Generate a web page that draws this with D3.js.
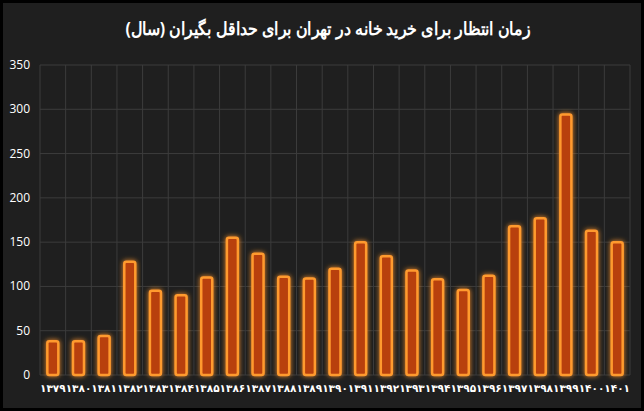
<!DOCTYPE html>
<html><head><meta charset="utf-8">
<script src="https://cdn.jsdelivr.net/npm/d3@7"></script>
<style>body{margin:0;background:#000}</style></head>
<body><svg width="644" height="411"></svg>
<script>
const years = ["۱۳۷۹","۱۳۸۰","۱۳۸۱","۱۳۸۲","۱۳۸۳","۱۳۸۴","۱۳۸۵","۱۳۸۶","۱۳۸۷","۱۳۸۸","۱۳۸۹","۱۳۹۰","۱۳۹۱","۱۳۹۲","۱۳۹۳","۱۳۹۴","۱۳۹۵","۱۳۹۶","۱۳۹۷","۱۳۹۸","۱۳۹۹","۱۴۰۰","۱۴۰۱"];
const values = [38,38,44,128,95,90,110,155,137,111,109,120,150,134,118,108,96,112,168,177,294,163,150];
const yTicks = [0,50,100,150,200,250,300,350];
const title = "زمان انتظار برای خرید خانه در تهران برای حداقل بگیران (سال)";

const svg = d3.select("svg");
const defs = svg.append("defs");
const f = defs.append("filter").attr("id","glow").attr("x","-50%").attr("y","-20%").attr("width","200%").attr("height","140%");
f.append("feGaussianBlur").attr("stdDeviation",2.5).attr("result","b");
const m = f.append("feMerge");
m.append("feMergeNode").attr("in","b");
m.append("feMergeNode").attr("in","SourceGraphic");

svg.append("rect").attr("width",644).attr("height",411).attr("fill","#000");
svg.append("rect").attr("x",3).attr("y",3).attr("width",638).attr("height",405).attr("fill","#1f1f1f");

svg.append("text").attr("x",328).attr("y",35).attr("text-anchor","middle")
  .attr("fill","#fff").attr("font-family","'Noto Sans', sans-serif").attr("font-weight","bold")
  .attr("font-size",18).attr("direction","rtl").attr("textLength",405)
  .attr("lengthAdjust","spacingAndGlyphs").text(title);

const x = d3.scaleBand().domain(years).range([40,630]);
const y = d3.scaleLinear().domain([0,350]).range([375,65]);

const g = svg.append("g");
g.selectAll(".h").data(yTicks).enter().append("line")
  .attr("x1",40).attr("x2",630).attr("y1",d=>y(d)).attr("y2",d=>y(d)).attr("stroke","#3c3c3c");
g.selectAll(".v").data(years.concat([null])).enter().append("line")
  .attr("x1",(d,i)=>40+i*x.bandwidth()).attr("x2",(d,i)=>40+i*x.bandwidth())
  .attr("y1",65).attr("y2",375).attr("stroke","#3c3c3c");

g.selectAll(".yl").data(yTicks).enter().append("text")
  .attr("x",30).attr("y",d=>y(d)+4).attr("text-anchor","end").attr("fill","#fff")
  .attr("font-family","'Open Sans', sans-serif").attr("font-size",12).text(d=>d);

const bw = 11;
g.selectAll(".bar").data(values).enter().append("rect")
  .attr("x",(d,i)=>x(years[i])+x.bandwidth()/2-bw/2).attr("width",bw)
  .attr("y",d=>y(d)).attr("height",d=>y(0)-y(d))
  .attr("fill","#b8400c").attr("stroke","#ff9a2e").attr("stroke-width",2.5)
  .attr("rx",2).attr("filter","url(#glow)");

g.selectAll(".xl").data(years).enter().append("text")
  .attr("x",d=>x(d)+x.bandwidth()/2).attr("y",392).attr("text-anchor","middle")
  .attr("fill","#fff").attr("font-family","'DejaVu Sans', sans-serif").attr("font-weight","bold")
  .attr("font-size",10.5).text(d=>d);
</script></body></html>
